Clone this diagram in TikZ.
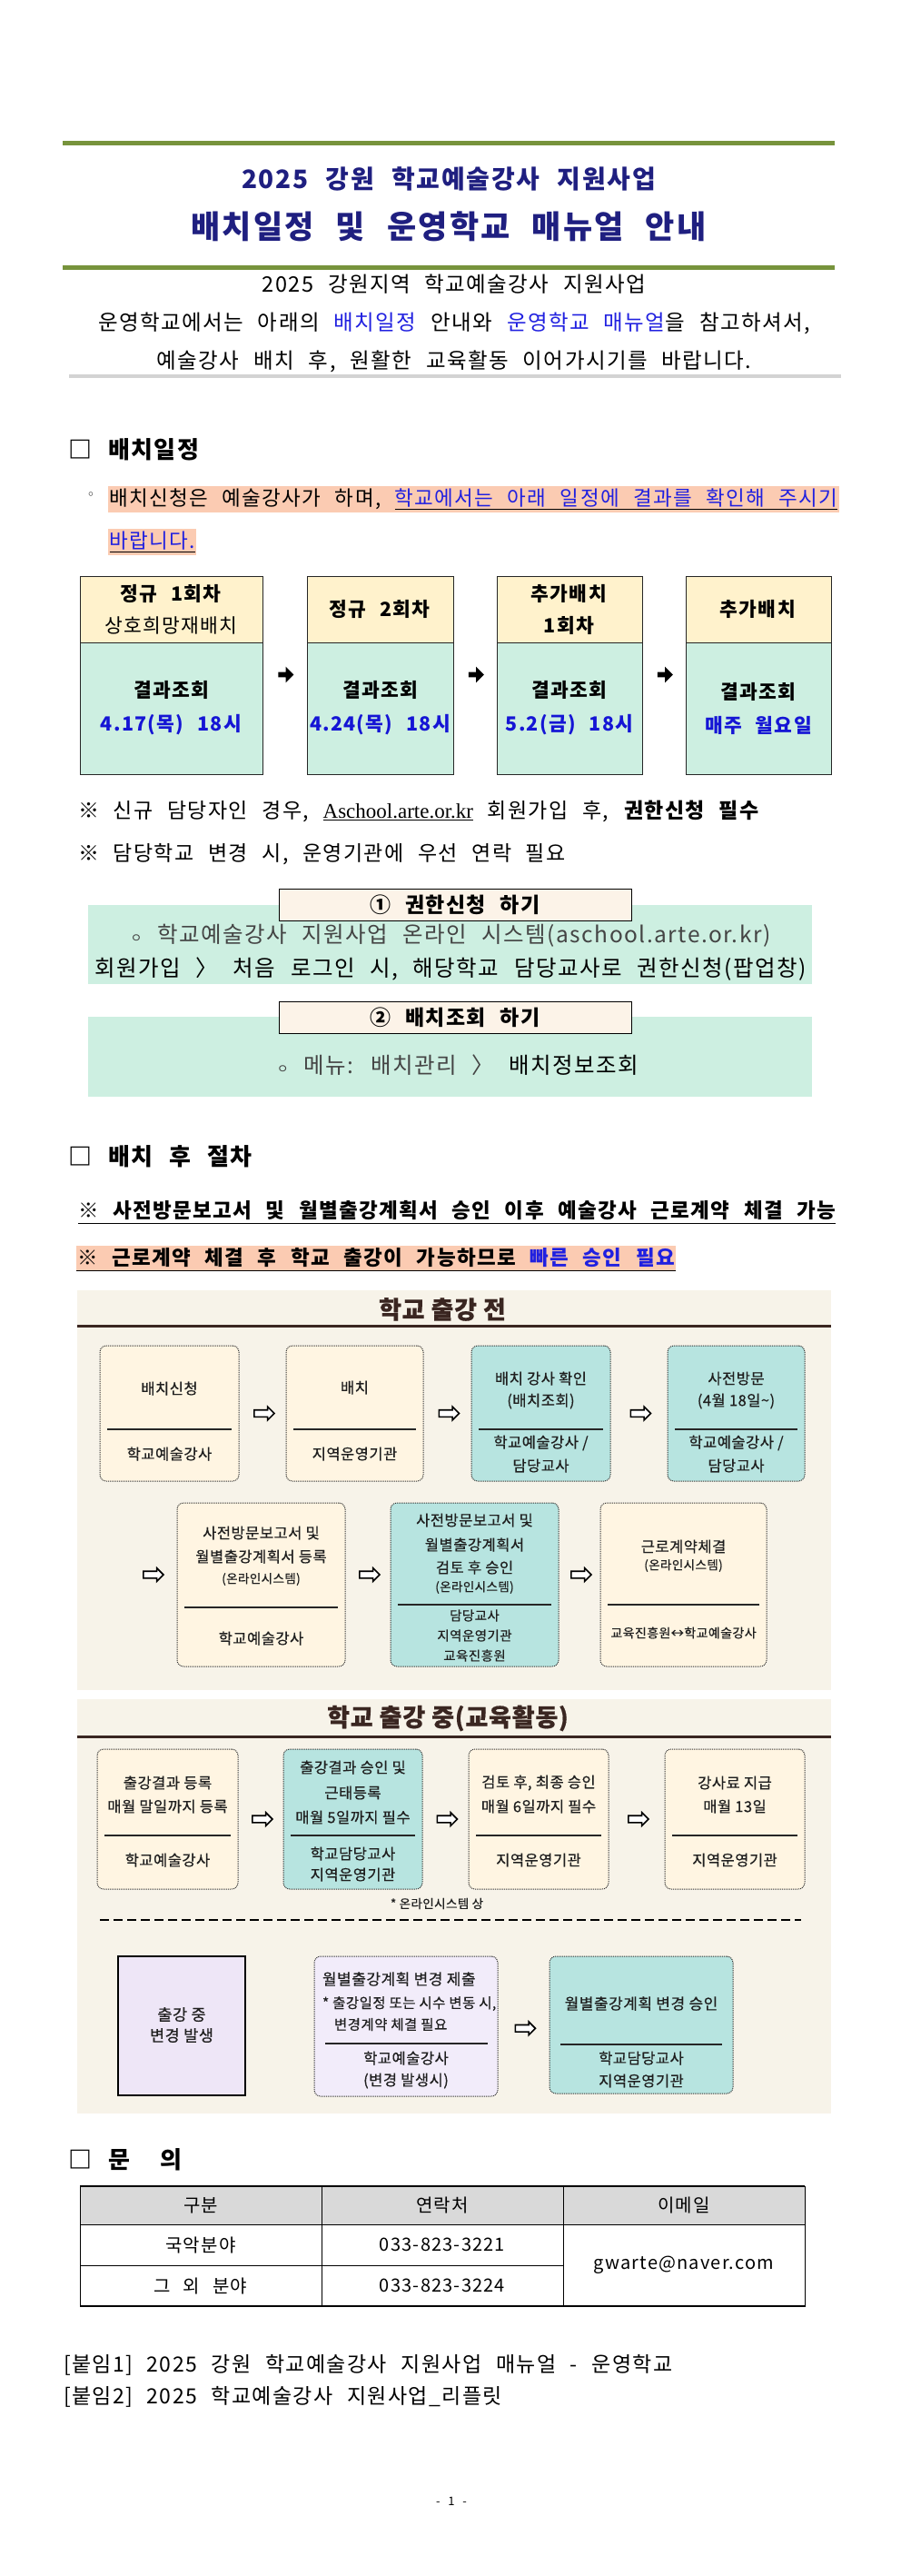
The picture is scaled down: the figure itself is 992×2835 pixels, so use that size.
\documentclass[tikz,border=0pt]{standalone}
\usepackage{fontspec}
\setmainfont{Noto Sans CJK KR}[WordSpace=2.4,LetterSpace=6]
\newfontfamily\pnl{Noto Sans CJK KR}[LetterSpace=3,FakeBold=0.5]
\newfontfamily\djv{DejaVu Sans}
\newfontfamily\lsr{Liberation Serif}
\usetikzlibrary{calc,shapes.arrows}
\newcommand{\fsz}[2]{\fontsize{#1}{#2}\selectfont}
\definecolor{grn}{HTML}{77933C}
\definecolor{navy}{HTML}{1F1F80}
\definecolor{blueT}{HTML}{2020E0}
\definecolor{dblue}{HTML}{1515D5}
\definecolor{peach}{HTML}{FBCBB2}
\definecolor{schY}{HTML}{FFF2CC}
\definecolor{mint}{HTML}{CDEFE1}
\definecolor{btnfill}{HTML}{FCF3E8}
\definecolor{panel}{HTML}{F7F3E9}
\definecolor{pcream}{HTML}{FFF5E2}
\definecolor{pteal}{HTML}{B7E4E0}
\definecolor{plav}{HTML}{F2ECFA}
\definecolor{plav2}{HTML}{EEE6F7}
\definecolor{brown}{HTML}{3A2621}
\definecolor{lgray}{HTML}{D3D3D3}
\definecolor{thead}{HTML}{D9D9D9}
\definecolor{softk}{HTML}{444444}
\begin{document}
\begin{tikzpicture}[x=1pt,y=-1pt,
 every node/.style={inner sep=0pt,outer sep=0pt},
 body/.style={font=\fsz{23.5}{28}},
 lbody/.style={body,anchor=west},
 hd/.style={font=\bfseries\fsz{26}{30},anchor=west},
 schtop/.style={draw=black!85,line width=0.9pt,fill=schY,anchor=north west,align=center,minimum height=73pt,font=\fsz{21.5}{35}},
 schbot/.style={draw=black!85,line width=0.9pt,fill=mint,anchor=north west,align=center,minimum height=145pt,font=\bfseries\fsz{21.5}{37}},
 harr/.style={single arrow,fill=black,inner xsep=0pt,inner ysep=2.6pt,minimum height=17pt,single arrow head extend=6pt},
 btn/.style={draw=black,line width=0.9pt,fill=btnfill,minimum width=388pt,minimum height=35pt,font=\bfseries\fsz{23}{26}},
 band/.style={fill=mint,anchor=north west,minimum width=797pt},
 bandtxt/.style={font=\fsz{24.5}{29}},
 proc/.style={draw=black!80,densely dotted,line width=1pt,rounded corners=7pt,anchor=north west},
 ptx/.style={font=\pnl\fsz{16.5}{19},text=black!88},
 pmd/.style={font=\pnl\fsz{14.5}{17},text=black!88},
 psm/.style={font=\pnl\fsz{13.5}{16},text=black!88},
 ptitle/.style={font=\pnl\bfseries\fsz{27}{30},text=brown},
 warr/.style={single arrow,draw=black,line width=1.6pt,fill=white,inner xsep=0pt,inner ysep=3pt,minimum height=22pt,single arrow head extend=3.5pt},
 divl/.style={line width=1.4pt,black!85},
 cell/.style={draw=black,line width=0.9pt,anchor=north west,font=\fsz{20}{24}},
]
\useasboundingbox (0,0) rectangle (992,2835);
\fill[white] (0,0) rectangle (992,2835);

% ---------- header ----------
\fill[grn] (69,155) rectangle (919,159.5);
\fill[grn] (69,292) rectangle (919,297);
\node[font=\bfseries\fsz{28}{31},text=navy] (t1) at (494,197) {2025 강원 학교예술강사 지원사업};
\node[font=\bfseries\fsz{35}{40},text=navy] (t2) at (494,249) {배치일정 및 운영학교 매뉴얼 안내};
\node[body] (i1) at (500,313) {2025 강원지역 학교예술강사 지원사업};
\node[body] (i2) at (500,356) {운영학교에서는 아래의 \textcolor{blueT}{배치일정} 안내와 \textcolor{blueT}{운영학교 매뉴얼}을 참고하셔서,};
\node[body] (i3) at (500,398) {예술강사 배치 후, 원활한 교육활동 이어가시기를 바랍니다.};
\fill[lgray] (76,412) rectangle (926,416);

% ---------- section 1 ----------
\node[hd] (h1) at (75,495) {□ 배치일정};
\node[font=\djv\fsz{15}{15}] (bul) at (100,546) {◦};
\node[lbody,font=\fsz{22.5}{27},fill=peach,inner xsep=1.5pt,inner ysep=3pt] (l1) at (119,549.5) {배치신청은 예술강사가 하며, \underline{\textcolor{blueT}{학교에서는 아래 일정에 결과를 확인해 주시기}}};
\node[lbody,font=\fsz{22.5}{27},fill=peach,inner xsep=1.5pt,inner ysep=3pt] (l2) at (119,596.5) {\underline{\textcolor{blueT}{바랍니다.}}};

\node[schtop,minimum width=201pt] (s1t) at (88,634) {\textbf{정규 1회차}\\상호희망재배치};
\node[schtop,minimum width=161pt] (s2t) at (338,634) {\textbf{정규 2회차}};
\node[schtop,minimum width=160pt] (s3t) at (547,634) {\textbf{추가배치}\\\textbf{1회차}};
\node[schtop,minimum width=160pt] (s4t) at (755,634) {\textbf{추가배치}};
\node[schbot,minimum width=201pt] (s1b) at (88,707) {결과조회\\\textcolor{dblue}{4.17(목) 18시}};
\node[schbot,minimum width=161pt] (s2b) at (338,707) {결과조회\\\textcolor{dblue}{4.24(목) 18시}};
\node[schbot,minimum width=160pt] (s3b) at (547,707) {결과조회\\\textcolor{dblue}{5.2(금) 18시}};
\node[schbot,minimum width=160pt] (s4b) at (755,707) {결과조회\\\textcolor{dblue}{매주 월요일}};
\node[harr] (a1) at ($(s1t.south east)!0.5!(s2t.south west)+(0,35.5)$) {};
\node[harr] (a2) at ($(s2t.south east)!0.5!(s3t.south west)+(0,35.5)$) {};
\node[harr] (a3) at ($(s3t.south east)!0.5!(s4t.south west)+(0,35.5)$) {};

\node[lbody,font=\fsz{23}{27}] (n1) at (86,893) {※ 신규 담당자인 경우, \underline{{\lsr Aschool.arte.or.kr}} 회원가입 후, \textbf{권한신청 필수}};
\node[lbody,font=\fsz{23}{27}] (n2) at (86,940) {※ 담당학교 변경 시, 운영기관에 우선 연락 필요};

\node[band,minimum height=87pt] (bd1) at (97,996) {};
\node[btn] (bt1) at (501,995.5) {① 권한신청 하기};
\node[bandtxt,text=softk] (bx1) at (496,1030) {{\fsz{14}{14}ㅇ} 학교예술강사 지원사업 온라인 시스템(aschool.arte.or.kr)};
\node[bandtxt] (bx2) at (496,1067) {회원가입 〉 처음 로그인 시, 해당학교 담당교사로 권한신청(팝업창)};
\node[band,minimum height=88pt] (bd2) at (97,1119) {};
\node[btn] (bt2) at (501,1119.5) {② 배치조회 하기};
\node[bandtxt] (bx3) at (504,1172) {\textcolor{softk}{{\fsz{14}{14}ㅇ} 메뉴: 배치관리 〉} 배치정보조회};

% ---------- section 2 ----------
\node[hd] (h2) at (75,1273) {□ 배치 후 절차};
\node[lbody,font=\bfseries\fsz{22.5}{27}] (n3) at (86,1332) {※ 사전방문보고서 및 월별출강계획서 승인 이후 예술강사 근로계약 체결 가능};
\draw[line width=1.2pt] ($(n3.south west)+(0,4)$) -- ($(n3.south east)+(0,4)$);
\node[lbody,font=\bfseries\fsz{22.5}{27},fill=peach,inner xsep=1pt,inner ysep=3pt] (n4) at (84,1384.5) {※ 근로계약 체결 후 학교 출강이 가능하므로 \textcolor{blueT}{빠른 승인 필요}};
\draw[line width=1.2pt] (n4.south west) -- (n4.south east);

% panel 1
\node[fill=panel,minimum width=830pt,minimum height=440pt,anchor=north west] (pan1) at (85,1420) {};
\node[ptitle] (pt1) at (487,1441) {학교 출강 전};
\draw[brown,line width=3pt] (pan1.west |- 0,1459) -- (pan1.east |- 0,1459);

\node[proc,fill=pcream,minimum width=153pt,minimum height=149pt] (p1) at (110,1481) {};
\node[proc,fill=pcream,minimum width=151pt,minimum height=149pt] (p2) at (315,1481) {};
\node[proc,fill=pteal,minimum width=153pt,minimum height=149pt] (p3) at (519,1481) {};
\node[proc,fill=pteal,minimum width=151pt,minimum height=149pt] (p4) at (735,1481) {};
\foreach \n in {p1,p2,p3,p4}{\draw[divl] ($(\n.west |- 0,1573)+(8,0)$) -- ($(\n.east |- 0,1573)+(-8,0)$);}
\node[ptx] at (p1.center |- 0,1528) {배치신청};
\node[ptx] at (p1.center |- 0,1600) {학교예술강사};
\node[ptx] at (p2.center |- 0,1527) {배치};
\node[ptx] at (p2.center |- 0,1600) {지역운영기관};
\node[ptx] at (p3.center |- 0,1517) {배치 강사 확인};
\node[ptx] at (p3.center |- 0,1542) {(배치조회)};
\node[ptx] at (p3.center |- 0,1588) {학교예술강사 /};
\node[ptx] at (p3.center |- 0,1613) {담당교사};
\node[ptx] at (p4.center |- 0,1517) {사전방문};
\node[ptx] at (p4.center |- 0,1542) {(4월 18일\textasciitilde)};
\node[ptx] at (p4.center |- 0,1588) {학교예술강사 /};
\node[ptx] at (p4.center |- 0,1613) {담당교사};
\node[warr] (w1) at ($(p1.east)!0.5!(p2.west)$) {};
\node[warr] (w2) at ($(p2.east)!0.5!(p3.west)$) {};
\node[warr] (w3) at ($(p3.east)!0.5!(p4.west)$) {};

\node[proc,fill=pcream,minimum width=185pt,minimum height=180pt] (p5) at (195,1654) {};
\node[proc,fill=pteal,minimum width=185pt,minimum height=180pt] (p6) at (430,1654) {};
\node[proc,fill=pcream,minimum width=183pt,minimum height=180pt] (p7) at (661,1654) {};
\draw[divl] ($(p5.west |- 0,1769)+(8,0)$) -- ($(p5.east |- 0,1769)+(-8,0)$);
\draw[divl] ($(p6.west |- 0,1766)+(8,0)$) -- ($(p6.east |- 0,1766)+(-8,0)$);
\draw[divl] ($(p7.west |- 0,1766)+(8,0)$) -- ($(p7.east |- 0,1766)+(-8,0)$);
\node[warr] (w4) at ($(p5.west)+(-28,-11)$) {};
\node[warr] (w5) at ($(p5.east)!0.5!(p6.west)+(0,-11)$) {};
\node[warr] (w6) at ($(p6.east)!0.5!(p7.west)+(0,-11)$) {};
\node[ptx] at (p5.center |- 0,1687) {사전방문보고서 및};
\node[ptx] at (p5.center |- 0,1713) {월별출강계획서 등록};
\node[psm] at (p5.center |- 0,1738) {(온라인시스템)};
\node[ptx] at (p5.center |- 0,1803) {학교예술강사};
\node[ptx] at (p6.center |- 0,1673) {사전방문보고서 및};
\node[ptx] at (p6.center |- 0,1700) {월별출강계획서};
\node[ptx] at (p6.center |- 0,1725) {검토 후 승인};
\node[psm] at (p6.center |- 0,1747) {(온라인시스템)};
\node[pmd] at (p6.center |- 0,1778) {담당교사};
\node[pmd] at (p6.center |- 0,1800) {지역운영기관};
\node[pmd] at (p6.center |- 0,1822) {교육진흥원};
\node[ptx] at (p7.center |- 0,1702) {근로계약체결};
\node[psm] at (p7.center |- 0,1723) {(온라인시스템)};
\node[psm,font=\pnl\fsz{14}{16}] at (p7.center |- 0,1797) {교육진흥원↔학교예술강사};

% panel 2
\node[fill=panel,minimum width=830pt,minimum height=456pt,anchor=north west] (pan2) at (85,1870) {};
\node[ptitle] (pt2) at (493,1891) {학교 출강 중(교육활동)};
\draw[brown,line width=3pt] (pan2.west |- 0,1911) -- (pan2.east |- 0,1911);

\node[proc,fill=pcream,minimum width=155pt,minimum height=154pt] (c1) at (107,1925) {};
\node[proc,fill=pteal,minimum width=153pt,minimum height=154pt] (c2) at (312,1925) {};
\node[proc,fill=pcream,minimum width=154pt,minimum height=154pt] (c3) at (516,1925) {};
\node[proc,fill=pcream,minimum width=154pt,minimum height=154pt] (c4) at (732,1925) {};
\foreach \n in {c1,c2,c3,c4}{\draw[divl] ($(\n.west |- 0,2020)+(8,0)$) -- ($(\n.east |- 0,2020)+(-8,0)$);}
\node[ptx] at (c1.center |- 0,1962) {출강결과 등록};
\node[ptx] at (c1.center |- 0,1988) {매월 말일까지 등록};
\node[ptx] at (c1.center |- 0,2047) {학교예술강사};
\node[ptx] at (c2.center |- 0,1945) {출강결과 승인 및};
\node[ptx] at (c2.center |- 0,1973) {근태등록};
\node[ptx] at (c2.center |- 0,2000) {매월 5일까지 필수};
\node[ptx] at (c2.center |- 0,2040) {학교담당교사};
\node[ptx] at (c2.center |- 0,2063) {지역운영기관};
\node[ptx] at (c3.center |- 0,1962) {검토 후, 최종 승인};
\node[ptx] at (c3.center |- 0,1988) {매월 6일까지 필수};
\node[ptx] at (c3.center |- 0,2047) {지역운영기관};
\node[ptx] at (c4.center |- 0,1962) {강사료 지급};
\node[ptx] at (c4.center |- 0,1988) {매월 13일};
\node[ptx] at (c4.center |- 0,2047) {지역운영기관};
\node[warr] (w7) at ($(c1.east)!0.5!(c2.west)$) {};
\node[warr] (w8) at ($(c2.east)!0.5!(c3.west)$) {};
\node[warr] (w9) at ($(c3.east)!0.5!(c4.west)$) {};
\node[psm] (onl) at (481,2095) {* 온라인시스템 상};
\coordinate (dL) at (110,2113);
\coordinate (dR) at (882,2113);
\draw[line width=2pt,dash pattern=on 10pt off 5pt] (dL) -- (dR);

\node[draw=black,line width=2.5pt,fill=plav2,minimum width=140pt,minimum height=153pt,anchor=north west] (d1) at (130,2153) {};
\node[ptx,font=\pnl\fsz{17.5}{20}] at (d1.center |- 0,2217) {출강 중};
\node[ptx,font=\pnl\fsz{17.5}{20}] at (d1.center |- 0,2240) {변경 발생};
\node[proc,fill=plav,minimum width=202pt,minimum height=154pt] (d2) at (346,2153) {};
\node[ptx,font=\pnl\fsz{17}{20},anchor=west] at (355,2178) {월별출강계획 변경 제출};
\node[ptx,font=\pnl\fsz{15.5}{18},anchor=west] at (355,2205) {* 출강일정 또는 시수 변동 시,};
\node[ptx,font=\pnl\fsz{15.5}{18},anchor=west] at (368,2228) {변경계약 체결 필요};
\draw[divl] ($(d2.west |- 0,2249)+(12,0)$) -- ($(d2.east |- 0,2249)+(-11,0)$);
\node[ptx] at (d2.center |- 0,2265) {학교예술강사};
\node[ptx] at (d2.center |- 0,2290) {(변경 발생시)};
\node[proc,fill=pteal,minimum width=202pt,minimum height=151pt] (d3) at (605,2153) {};
\node[ptx,font=\pnl\fsz{17}{20}] at (d3.center |- 0,2205) {월별출강계획 변경 승인};
\draw[divl] ($(d3.west |- 0,2250)+(12,0)$) -- ($(d3.east |- 0,2250)+(-12,0)$);
\node[ptx] at (d3.center |- 0,2265) {학교담당교사};
\node[ptx] at (d3.center |- 0,2290) {지역운영기관};
\node[warr] (w10) at ($(d2.east)!0.5!(d3.west)+(0,3)$) {};

% ---------- section 3 ----------
\node[hd] (h3) at (75,2377) {□ 문 \hspace{16pt}의};
\node[cell,fill=thead,minimum width=266pt,minimum height=42pt] (th1) at (88,2406) {구분};
\node[cell,fill=thead,minimum width=266pt,minimum height=42pt] (th2) at (354,2406) {연락처};
\node[cell,fill=thead,minimum width=266pt,minimum height=42pt] (th3) at (620,2406) {이메일};
\node[cell,minimum width=266pt,minimum height=45pt] (r11) at (88,2448) {국악분야};
\node[cell,minimum width=266pt,minimum height=45pt] (r12) at (354,2448) {033-823-3221};
\node[cell,minimum width=266pt,minimum height=90pt] (r13) at (620,2448) {gwarte@naver.com};
\node[cell,minimum width=266pt,minimum height=45pt] (r21) at (88,2493) {그 외 분야};
\node[cell,minimum width=266pt,minimum height=45pt] (r22) at (354,2493) {033-823-3224};
\draw[line width=1.6pt] (th1.north west) -- (th3.north east);
\draw[line width=1.6pt] (r21.south west) -- (r13.south east);

\node[lbody,font=\fsz{23}{27}] (att1) at (70,2603) {[붙임1] 2025 강원 학교예술강사 지원사업 매뉴얼 - 운영학교};
\node[lbody,font=\fsz{23}{27}] (att2) at (70,2638) {[붙임2] 2025 학교예술강사 지원사업\_리플릿};
\node[font=\fsz{13}{15}] (pg) at (497,2753) {- 1 -};
\end{tikzpicture}
\end{document}
